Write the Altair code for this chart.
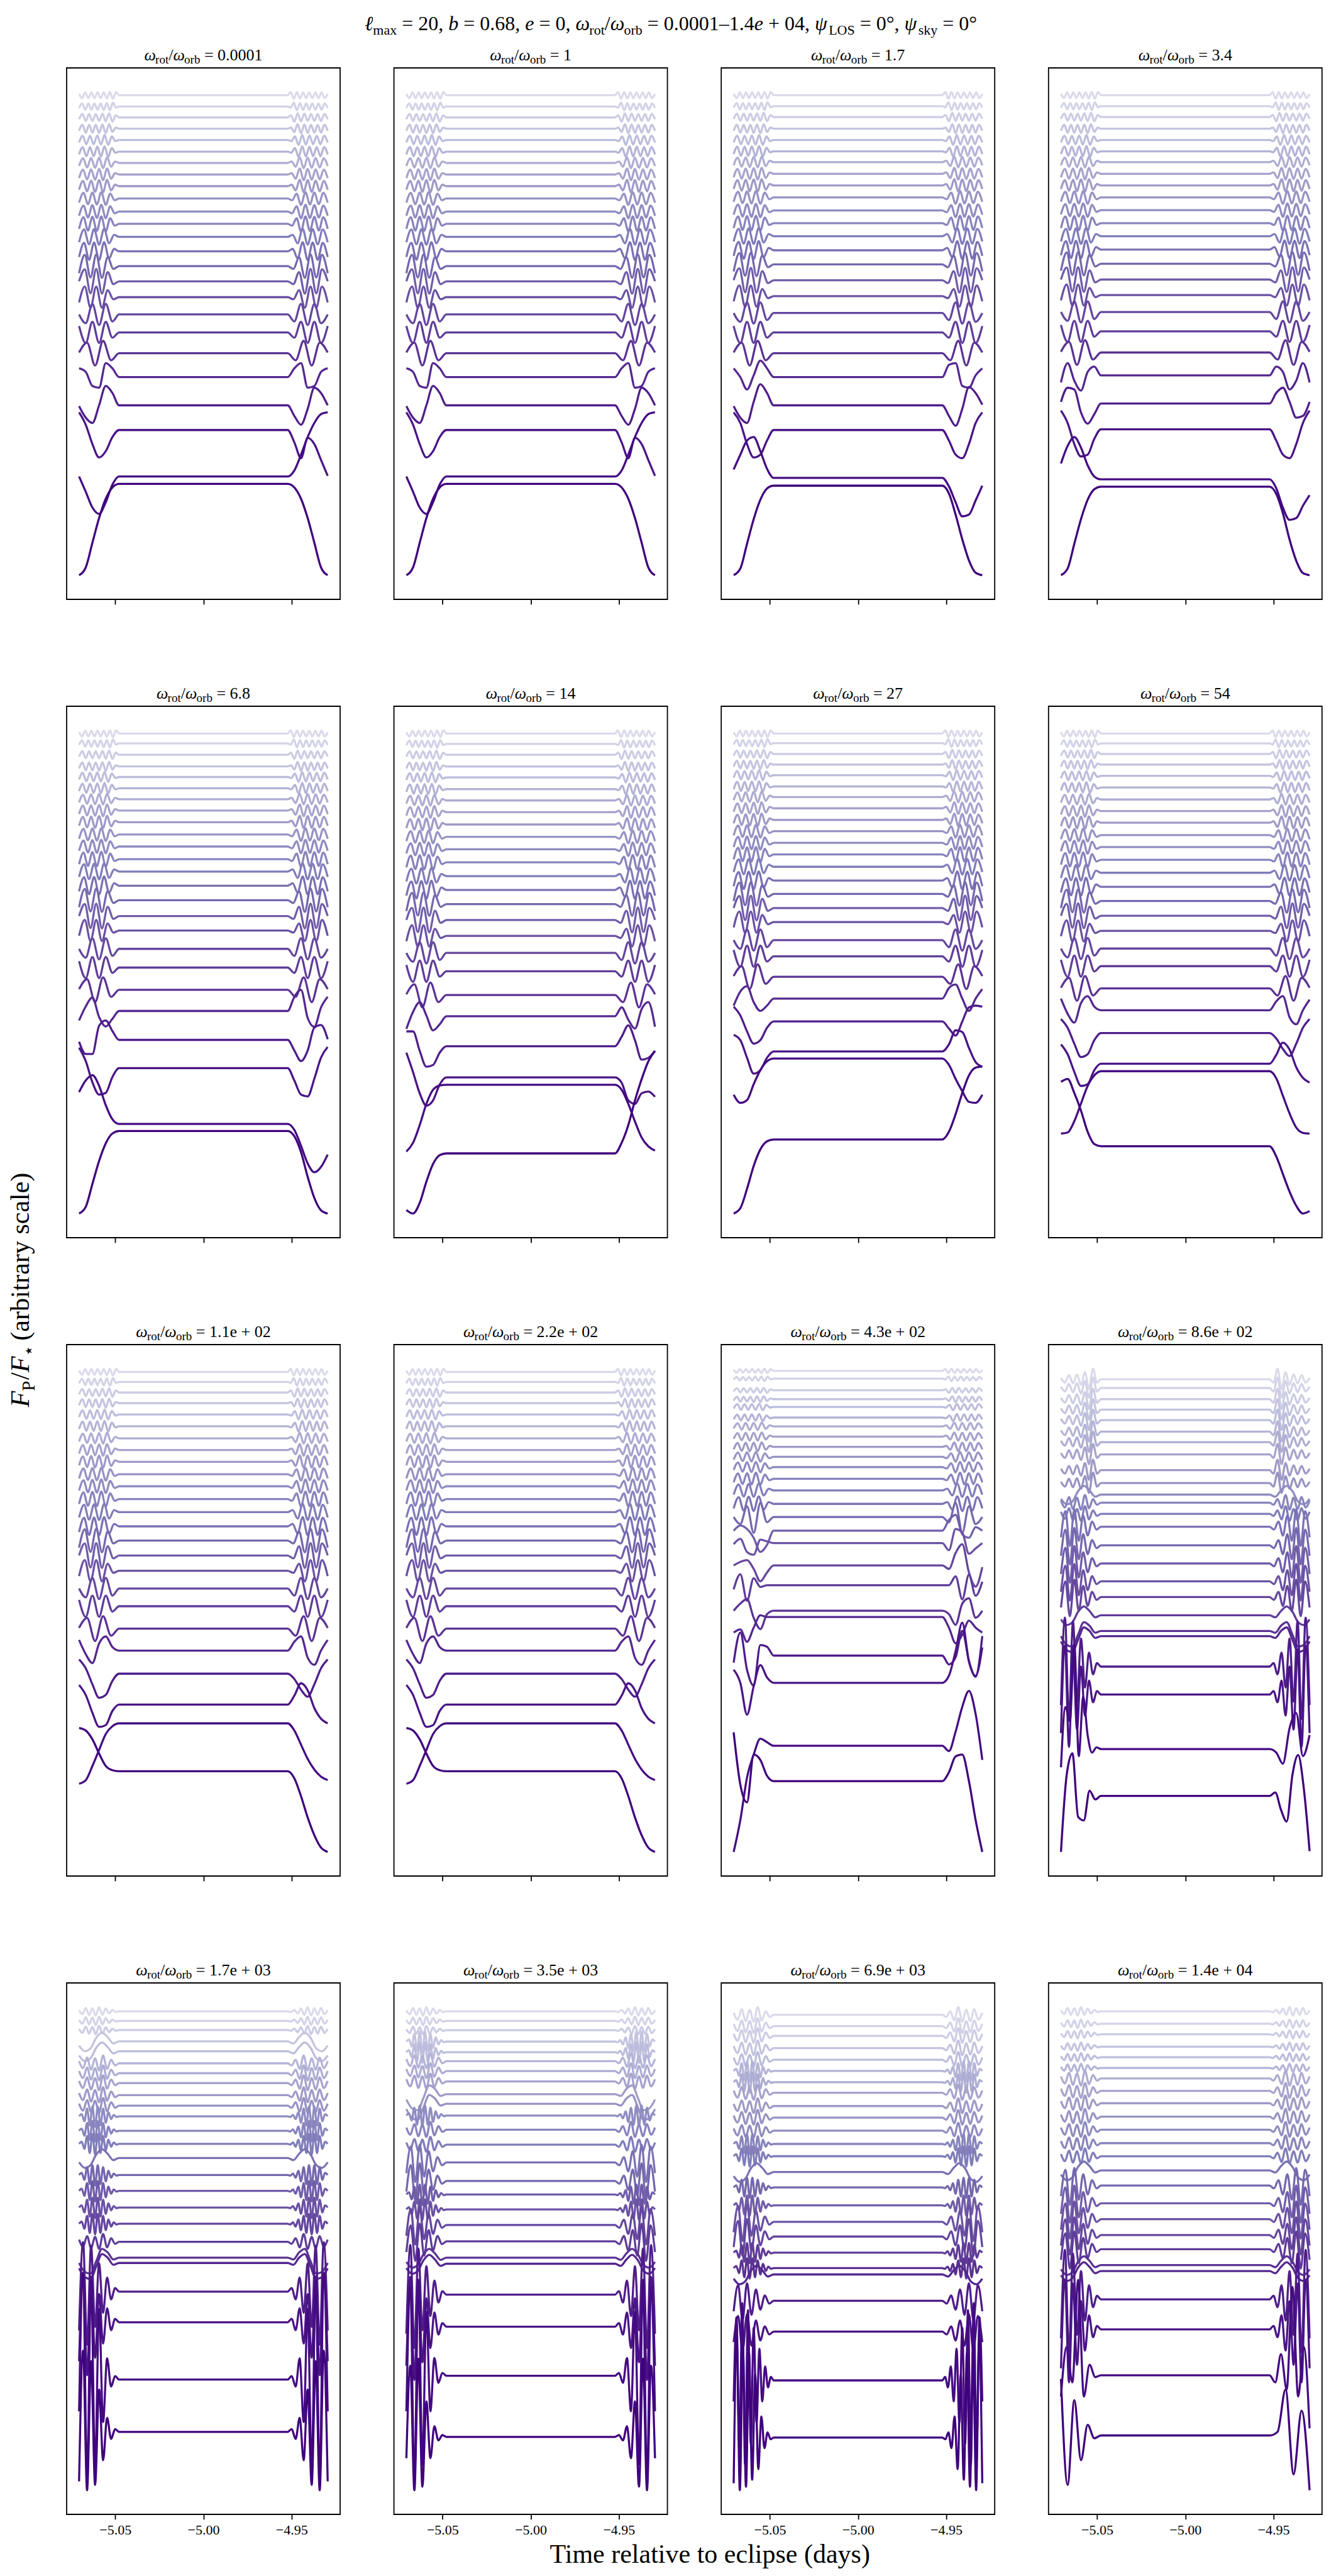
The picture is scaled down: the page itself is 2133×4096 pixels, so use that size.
import altair as alt
import pandas as pd

# ---------------- time windows (days) ----------------
T_START, T_FLAT0, T_FLAT1, T_END = -5.0705, -5.0478, -4.9522, -4.9295
XTICKS = [-5.05, -5.00, -4.95]

RATIO_LABELS = ["0.0001", "1", "1.7", "3.4", "6.8", "14", "27", "54",
                "1.1e + 02", "2.2e + 02", "4.3e + 02", "8.6e + 02",
                "1.7e + 03", "3.5e + 03", "6.9e + 03", "1.4e + 04"]

# flat (full-eclipse) level of the 25 curves, top to bottom, for each panel (arbitrary units)
BASE_01 = [1432, 1400, 1369, 1337, 1305, 1272, 1240, 1207, 1174, 1139, 1102, 1067, 1030, 989, 947, 904, 859, 810, 759, 700, 632, 552, 482, 350, 329]
BASE_03 = [1432, 1401, 1370, 1337, 1305, 1273, 1242, 1209, 1176, 1142, 1105, 1069, 1032, 992, 952, 907, 862, 814, 759, 700, 632, 552, 482, 346, 324]
BASE_04 = [1432, 1401, 1370, 1337, 1305, 1273, 1242, 1209, 1176, 1142, 1106, 1069, 1032, 994, 954, 909, 865, 817, 762, 702, 637, 557, 484, 342, 321]
BASE_05 = [1430, 1402, 1370, 1337, 1307, 1275, 1244, 1212, 1179, 1144, 1110, 1074, 1039, 999, 958, 913, 872, 820, 767, 704, 644, 562, 482, 324, 304]
BASE_06 = [1429, 1400, 1369, 1336, 1305, 1272, 1240, 1207, 1172, 1137, 1102, 1065, 1026, 987, 947, 902, 857, 809, 757, 690, 630, 545, 457, 436, 242]
BASE_07 = [1432, 1405, 1374, 1344, 1314, 1282, 1252, 1220, 1187, 1155, 1122, 1089, 1054, 1015, 977, 937, 897, 846, 800, 742, 680, 615, 530, 510, 280]
BASE_08 = [1432, 1404, 1374, 1344, 1312, 1279, 1245, 1212, 1179, 1144, 1110, 1074, 1037, 997, 957, 915, 872, 822, 772, 709, 647, 582, 495, 474, 261]
BASE_09 = [1432, 1404, 1374, 1344, 1312, 1279, 1245, 1212, 1179, 1144, 1110, 1074, 1037, 997, 957, 915, 872, 822, 772, 709, 647, 582, 495, 442, 307]
BASE_10 = [1432, 1404, 1374, 1344, 1312, 1279, 1245, 1212, 1179, 1144, 1110, 1074, 1037, 997, 957, 915, 872, 822, 772, 709, 647, 582, 495, 442, 307]
BASE_11 = [1432, 1410, 1377, 1352, 1330, 1300, 1275, 1246, 1217, 1189, 1160, 1127, 1094, 1056, 1019, 980, 945, 882, 826, 754, 736, 627, 550, 372, 272]
BASE_12 = [1422, 1397, 1365, 1335, 1305, 1272, 1242, 1207, 1162, 1125, 1092, 1069, 1037, 1000, 947, 895, 844, 799, 747, 702, 687, 600, 520, 364, 230]
BASE_13 = [1422, 1395, 1369, 1337, 1309, 1275, 1247, 1219, 1185, 1155, 1125, 1084, 1047, 1007, 959, 914, 867, 821, 770, 725, 710, 629, 542, 380, 232]
BASE_14 = [1422, 1395, 1369, 1337, 1307, 1282, 1254, 1225, 1189, 1162, 1129, 1089, 1047, 997, 945, 907, 865, 821, 775, 729, 712, 625, 535, 397, 225]
BASE_15 = [1422, 1390, 1362, 1327, 1294, 1262, 1230, 1200, 1162, 1129, 1092, 1054, 1019, 974, 930, 879, 832, 790, 744, 700, 682, 607, 519, 380, 217]
BASE_16 = [1422, 1387, 1357, 1322, 1292, 1262, 1232, 1197, 1162, 1124, 1087, 1049, 1012, 972, 929, 879, 834, 789, 749, 704, 687, 607, 522, 392, 222]
BASES = [BASE_01, BASE_01, BASE_03, BASE_04, BASE_05, BASE_06, BASE_07, BASE_08,
         BASE_09, BASE_10, BASE_11, BASE_12, BASE_13, BASE_14, BASE_15, BASE_16]

# ingress wiggles of the upper 20 curves (outer edge -> start of flat part); egress is the mirror
TOP = [
    [4, -8, 8, -8, 8, -8, 8, -8, 8, -9, 9, -10, 9],
    [-4, 9, -9, 9, -9, 9, -9, 9, -10, 10, -11, 11, -3],
    [-5, 10, -10, 10, -10, 10, -10, 11, -11, 12, -12, 6],
    [-6, 11, -11, 11, -11, 11, -12, 12, -13, 13, -9, 3],
    [-7, 12, -12, 12, -12, 13, -13, 14, -14, 10, -3],
    [-8, 13, -13, 13, -13, 14, -14, 15, -15, 10, -3],
    [-9, 13, -13, 14, -14, 15, -15, 16, -11, 4],
    [-10, 14, -14, 15, -15, 16, -16, 17, -12, 4],
    [-10, 15, -15, 16, -16, 17, -17, 18, -12, 4],
    [-12, 16, -16, 17, -17, 18, -18, 14, -5],
    [-12, 17, -17, 18, -18, 19, -19, 15, -5],
    [-14, 19, -19, 20, -20, 21, -21, 16, -5],
    [-15, 21, -21, 22, -22, 23, -18, 6],
    [-16, 24, -24, 25, -25, 26, -20, 7],
    [-20, 32, -32, 33, -33, 25, -8],
    [0, 34, -34, 35, -35, 26, -8],
    [-15, 30, -30, 30, -30, 20, -6],
    [0, -25, 30, -30, 30, -20],
    [18, -30, 30, -30, 30, -15],
    [2, 30, -35, 35, -20],
]
# panel 11 (4.3e+02): the upper curves wiggle with a smaller amplitude
TOP_11 = [
    [3, -5, 5, -5, 5, -5, 5, -5, 5, -6, 6, -6, 5],
    [-3, 5, -5, 5, -5, 5, -5, 6, -6, 6, -7, 6, -2],
    [-3, 6, -6, 6, -6, 6, -6, 7, -7, 7, -7, 3],
    [-4, 7, -7, 7, -7, 7, -8, 8, -8, 8, -5, 2],
    [-4, 8, -8, 8, -8, 8, -8, 9, -9, 6, -2],
    [-5, 8, -8, 9, -9, 9, -9, 10, -10, 6, -2],
    [-6, 9, -9, 10, -10, 10, -10, 11, -7, 3],
    [-6, 10, -10, 11, -11, 11, -11, 12, -8, 3],
    [-7, 11, -11, 12, -12, 12, -12, 13, -8, 3],
    [-8, 12, -12, 13, -13, 14, -14, 10, -4],
    [-8, 13, -13, 14, -14, 15, -15, 11, -4],
    [-10, 15, -15, 16, -16, 17, -17, 12, -4],
    [-12, 17, -17, 18, -18, 19, -14, 5],
    [-13, 19, -19, 20, -20, 21, -16, 5],
]

# lowest five curves of panels 1-10: (ingress, egress) offsets from the flat level
LOW_01 = [([25, 15, -25, -30, 40, 25], [25, 40, -30, -25, 15, 25]),
          ([-2, -35, -50, 0, 55, 35], [-30, -55, -10, 50, 35, 0]),
          ([50, 15, -40, -78, -60, -20], [-35, -80, -22, -40, -85, -130]),
          ([0, -43, -88, -106, -73, -23], [17, 62, 112, 152, 177, 182]),
          ([-259, -237, -167, -97, -42, -10], [-10, -42, -97, -167, -237, -259])]
LOW_03 = [([25, 0, -35, 5, 47, 25], [35, 40, -25, -30, 5, 25]),
          ([-2, -35, -50, 10, 60, 35], [-30, -58, -10, 52, 35, 2]),
          ([50, 20, -40, -78, -70, -30], [-30, -70, -80, -40, 20, 50]),
          ([24, 66, 106, 116, 76, 26], [-24, -69, -109, -104, -64, -22]),
          ([-254, -235, -165, -95, -40, -8], [-22, -82, -152, -212, -247, -254])]
LOW_04 = [([-20, 35, -15, -43, 10, 25], [25, 10, -40, -15, 35, -20]),
          ([5, 45, 40, -25, -57, -30], [30, 45, 5, -40, -35, 5]),
          ([53, 18, -42, -77, -72, -27], [-32, -72, -82, -42, 18, 53]),
          ([45, 95, 120, 90, 40, 8], [-25, -80, -115, -110, -75, -45]),
          ([-251, -232, -162, -92, -37, -7], [-20, -75, -150, -210, -245, -251])]
LOW_05 = [([-27, 13, 38, -17, -44, -22], [40, 60, -20, -45, 10, 40]),
          ([-5, -40, -40, 40, 55, 25], [-30, -60, -30, 35, 42, 2]),
          ([58, 20, -40, -75, -70, -25], [-35, -75, -80, -30, 30, 60]),
          ([90, 123, 138, 108, 53, 13], [-17, -62, -112, -137, -122, -87]),
          ([-234, -215, -150, -85, -35, -7], [-15, -60, -130, -190, -225, -234])]
LOW_06 = [([-36, 12, 40, 2, -40, -23], [25, -10, -35, 20, 40, -30]),
          ([42, 42, -13, -58, -53, -18], [27, 59, 17, -38, -33, -13]),
          ([70, 15, -45, -80, -65, -20], [-15, -65, -75, -45, -40, -55]),
          ([-189, -164, -114, -54, -14, -2], [-14, -54, -104, -149, -174, -186]),
          ([-160, -170, -140, -80, -30, -5], [30, 80, 150, 210, 260, 290])]
LOW_07 = [([-20, 20, 35, -10, -35, -20], [30, 40, 0, -35, 0, 27]),
          ([42, 17, -28, -63, -53, -18], [-20, -40, 0, 40, 45, 42]),
          ([47, 32, -18, -63, -53, -18], [20, 60, 55, 10, -30, -43]),
          ([-103, -126, -118, -73, -33, -8], [-18, -58, -93, -123, -126, -103]),
          ([-210, -195, -140, -75, -28, -5], [22, 72, 132, 182, 204, 207])]
LOW_08 = [([33, -10, -35, 20, 40, 10], [25, 40, -20, -40, 0, 30]),
          ([40, 15, -30, -68, -60, -20], [-15, -45, -65, -30, 15, 40]),
          ([55, 27, -23, -63, -58, -18], [25, 60, 40, -10, -40, -53]),
          ([-177, -174, -142, -92, -42, -12], [-20, -70, -120, -160, -175, -177]),
          ([183, 191, 151, 101, 41, 6], [-29, -79, -129, -169, -191, -184])]
LOW_09 = [([30, -10, -35, 20, 40, 10], [25, 40, -20, -40, 0, 30]),
          ([40, 15, -30, -68, -60, -20], [-15, -45, -65, -30, 15, 40]),
          ([55, 27, -23, -63, -58, -18], [25, 60, 40, -10, -40, -53]),
          ([-170, -160, -120, -75, -30, -8], [-20, -60, -100, -130, -150, -160]),
          ([122, 115, 90, 50, 15, 3], [-20, -70, -130, -180, -215, -227])]
LOWS = [LOW_01, LOW_01, LOW_03, LOW_04, LOW_05, LOW_06, LOW_07, LOW_08, LOW_09, LOW_09]

# panel 11 (4.3e+02): curves 15-25
LOW_11 = [([0, -20, 30, -45, 40, -15], [-15, 40, -45, 30, -20, 0]),
          ([0, 15, 5, -20, -60, -40], [30, 45, -10, -20, 10, 0]),
          ([-3, 12, -25, -33, 10, 5], [-20, 40, 30, -30, -15, 0]),
          ([0, 10, 15, -10, -45, -20], [-10, 35, 60, -20, -60, -5]),
          ([-12, 31, -44, 20, -5, 0], [0, 25, -40, 30, -30, 10]),
          ([0, 20, 33, -20, -52, -10], [-10, -40, 20, 35, -20, 0]),
          ([-44, -35, -70, -30, 5, 0], [-30, -74, -50, -10, -30, -44]),
          ([-20, 65, -40, -85, 30, 25], [-25, -5, 70, -15, -60, 55]),
          ([37, 0, -90, -10, 50, 15], [20, 90, 170, 60, 20, 100]),
          ([-300, -210, -90, -25, 20, 10], [-15, 40, 110, 155, 90, -40]),
          ([138, -10, -60, 75, 60, 15], [25, 70, 75, 0, -110, -200])]

# fast-rotation panels (8.6e+02 ... 1.4e+04): wiggle patterns seen in the upper 23 curves
SHAPES = {
    "a": [3, -8, 10, -10, 9, -12, 12, -10, 8, -6, 4, -2],
    "b": [6, -14, 16, -18, 14, -20, 22, -16, 10, -6],
    "c": [0, 6, -14, 22, -26, 28, -30, 28, -26, 22, -18, 12, -8, 4, -2],
    "d": [-12, -28, -20, 10, 25, 12, -6],
    "D": [-15, -40, -45, -10, 25, 15, -5],
    "e": [-30, 45, -55, 50, -40, 32, -25, 15, -8],
    "f": [-110, 140, -150, 130, -100, 80, -60, 40, -22, 10],
    "h": [4, -10, 12, -12, 14, -16, 20, -28, 30, -10],
}
SHAPE_KEYS = {
    11: "hhhhhhhhhh" + "d" + "bb" + "eeeee" + "dDD" + "ff",
    12: "aaa" + "dd" + "bbbbb" + "ccc" + "d" + "cccc" + "b" + "DD" + "f" + "f",
    13: "aaa" + "cc" + "bbb" + "DD" + "c" + "bb" + "ee" + "cc" + "ee" + "dd" + "ff",
    14: "bbbbb" + "ccb" + "bbb" + "cc" + "d" + "cc" + "ee" + "cc" + "d" + "ee",
    15: "aaaaaabbbbbb" + "b" + "d" + "eeeee" + "dd" + "ff",
}
# lowest two curves of the fast-rotation panels: (ingress, egress or None = mirror)
BOTTOM = {
    11: [([-52, 120, 80, 300, -20, 150, 40, -10, 5], [-10, -42, 60, 103, -20, 40]),
         ([-160, 60, 122, -60, -70, 15, -10], [10, -40, -73, 60, 117, 20, -158])],
    12: [([-90, 300, -280, 280, -250, 200, -120, 60, -20, 10], None),
         ([-140, 230, -165, 200, -150, 120, -80, 40, -20, 8], None)],
    13: [([-100, 250, -300, 270, -250, 180, -100, 50, -20, 8], None),
         ([-60, 200, -150, 220, -140, 100, -60, 30, -10, 5], None)],
    14: [([-60, 180, -200, 220, -240, 200, -180, 150, -120, 90, -60, 40, -20, 10], None),
         ([-130, 280, -150, 260, -140, 240, -120, 180, -90, 60, -30, 15, -5], None)],
    15: [([-60, 80, -20, 270, -60, 30, -5], [-20, 60, -40, 250, -60, 80, -150]),
         ([160, -140, 100, -70, 30, -8], [10, 130, -110, 70, -155])],
}


def curve_lists(p, i):
    if p <= 9:
        if i < 20:
            return TOP[i], TOP[i][::-1]
        return LOWS[p][i - 20]
    if p == 10:
        if i < 14:
            return TOP_11[i], TOP_11[i][::-1]
        return LOW_11[i - 14]
    if i < 23:
        L = SHAPES[SHAPE_KEYS[p][i]]
        return L, L[::-1]
    L, R = BOTTOM[p][i - 23]
    return L, (L[::-1] if R is None else R)


# ---------------- styling ----------------
PURPLES = ["#fcfbfd", "#efedf5", "#dadaeb", "#bcbddc", "#9e9ac8",
           "#807dba", "#6a51a3", "#54278f", "#3f007d"]


def cmap(v):
    x = v * 8
    i = min(int(x), 7)
    f = x - i
    a = [int(PURPLES[i][k:k + 2], 16) for k in (1, 3, 5)]
    b = [int(PURPLES[i + 1][k:k + 2], 16) for k in (1, 3, 5)]
    return "#%02x%02x%02x" % tuple(round(a[j] + (b[j] - a[j]) * f) for j in range(3))


COLORS = [cmap(0.25 + 0.75 * i / 24) for i in range(25)]

FONT = "Liberation Serif"
PW, PH = 435, 845
COL_GAP, ROW_GAP = 85.6, 170
LW = 3.3

CW = {" ": .25, ".": .25, ",": .25, "=": .564, "+": .564, "/": .278,
      "\u2013": .5, "\u00b0": .4, "(": .333, ")": .333, "a": .444, "b": .5, "c": .444,
      "d": .5, "e": .444, "i": .278, "k": .5, "l": .278, "m": .778, "o": .5, "p": .5,
      "r": .333, "s": .389, "t": .278, "v": .5, "x": .5, "y": .5, "T": .611, "L": .611,
      "O": .722, "S": .556, "P": .611, "F": .611, "\u03c9": .68, "\u03c8": .69,
      "\u2113": .42, "\u22c6": .5}


def tw(s, size):
    return sum(CW.get(ch, 0.5) for ch in s) * size


def place(pieces, cx, cy, size, sub, drop, vertical=False):
    total = sum(tw(t, sub if k == "sub" else size) for t, k in pieces)
    pos = -total / 2
    out = []
    for t, k in pieces:
        sz = sub if k == "sub" else size
        d = drop if k == "sub" else 0
        lead = len(t) - len(t.lstrip(" "))
        start = pos + tw(" " * lead, sz)
        s = t.strip(" ")
        if vertical:
            out.append({"s": s, "k": k, "px": cx + d, "py": cy - start})
        else:
            out.append({"s": s, "k": k, "px": cx + start, "py": cy + d})
        pos += tw(t, sz)
    return out


def text_layers(rows, size, sub, angle=0):
    df = pd.DataFrame(rows)
    layers = []
    for kind in ("it", "rm", "sub"):
        d = df[df["k"] == kind]
        if len(d) == 0:
            continue
        kw = dict(align="left", baseline="alphabetic", font=FONT, color="black",
                  fontSize=sub if kind == "sub" else size)
        if kind == "it":
            kw["fontStyle"] = "italic"
        if angle:
            kw["angle"] = angle
        layers.append(alt.Chart(d).mark_text(**kw).encode(
            x=alt.X("px:Q", scale=None), y=alt.Y("py:Q", scale=None), text="s:N"))
    return layers


def panel(p):
    base = BASES[p]
    rows = []
    for i in range(25):
        L, R = curve_lists(p, i)
        b = base[i]
        n = len(L)
        for k, v in enumerate(L):
            rows.append((T_START + k * (T_FLAT0 - T_START) / n, b + v, i))
        rows.append((T_FLAT0, b, i))
        rows.append((T_FLAT1, b, i))
        m = len(R)
        for k, v in enumerate(R):
            rows.append((T_FLAT1 + (k + 1) * (T_END - T_FLAT1) / m, b + v, i))
    df = pd.DataFrame(rows, columns=["t", "f", "c"])
    df["col"] = df["c"].map(lambda i: COLORS[i])
    fmin, fmax = df["f"].min(), df["f"].max()
    fr = fmax - fmin
    tr = T_END - T_START
    bottom_row = p >= 12
    lines = alt.Chart(df).mark_line(interpolate="monotone", strokeWidth=LW,
                                     strokeJoin="round").encode(
        x=alt.X("t:Q", scale=alt.Scale(domain=[T_START - 0.05 * tr, T_END + 0.05 * tr],
                                       nice=False, zero=False),
                axis=alt.Axis(values=XTICKS, format=".2f", labels=bottom_row, ticks=True,
                              tickSize=7.8, tickWidth=1.8, tickColor="black", domain=False,
                              grid=False, title=None, labelFont=FONT, labelFontSize=22,
                              labelColor="black", labelPadding=7)),
        y=alt.Y("f:Q", scale=alt.Scale(domain=[fmin - 0.05 * fr, fmax + 0.05 * fr],
                                       nice=False, zero=False), axis=None),
        color=alt.Color("col:N", scale=None),
        detail="c:N",
    )
    layers = [lines]
    sub = [("\u03c9", "it"), ("rot", "sub"), ("/", "rm"), ("\u03c9", "it"), ("orb", "sub"),
           (" = " + RATIO_LABELS[p], "rm")]
    layers += text_layers(place(sub, PW / 2, -12, 26, 19, 5), 26, 19)
    if p == 0:
        sup = [("\u2113", "it"), ("max", "sub"), (" = 20, ", "rm"), ("b", "it"),
               (" = 0.68, ", "rm"), ("e", "it"), (" = 0, ", "rm"), ("\u03c9", "it"),
               ("rot", "sub"), ("/", "rm"), ("\u03c9", "it"), ("orb", "sub"),
               (" = 0.0001\u20131.4", "rm"), ("e", "it"), (" + 04, ", "rm"),
               ("\u03c8", "it"), ("LOS", "sub"), (" = 0\u00b0, ", "rm"), ("\u03c8", "it"),
               ("sky", "sub"), (" = 0\u00b0", "rm")]
        layers += text_layers(place(sup, 961, -60, 32, 22, 7), 32, 22)
        ylab = [("F", "it"), ("P", "sub"), ("/", "rm"), ("F", "it"), ("\u22c6", "sub"),
                (" (arbitrary scale)", "rm")]
        layers += text_layers(place(ylab, -60, 1943, 42, 29, 9, vertical=True), 42, 29,
                              angle=270)
        layers += text_layers(place([("Time relative to eclipse (days)", "rm")], 1024, 3967,
                                    42, 28, 8), 42, 28)
        anchor = alt.Chart(pd.DataFrame({"a": [0]})).mark_rect(color="white").encode(
            x=alt.value(-105), x2=alt.value(-100), y=alt.value(-107), y2=alt.value(-102))
        layers.append(anchor)
    return alt.layer(*layers).resolve_scale(x="independent", y="independent").properties(
        width=PW, height=PH)


chart = alt.concat(*[panel(p) for p in range(16)], columns=4,
                   spacing={"row": ROW_GAP, "column": COL_GAP}, bounds="flush").properties(
    padding=0, background="white"
).configure_view(stroke="black", strokeWidth=1.8, fill="white")

chart.save("out.html", embed_options={"renderer": "svg", "actions": False})
